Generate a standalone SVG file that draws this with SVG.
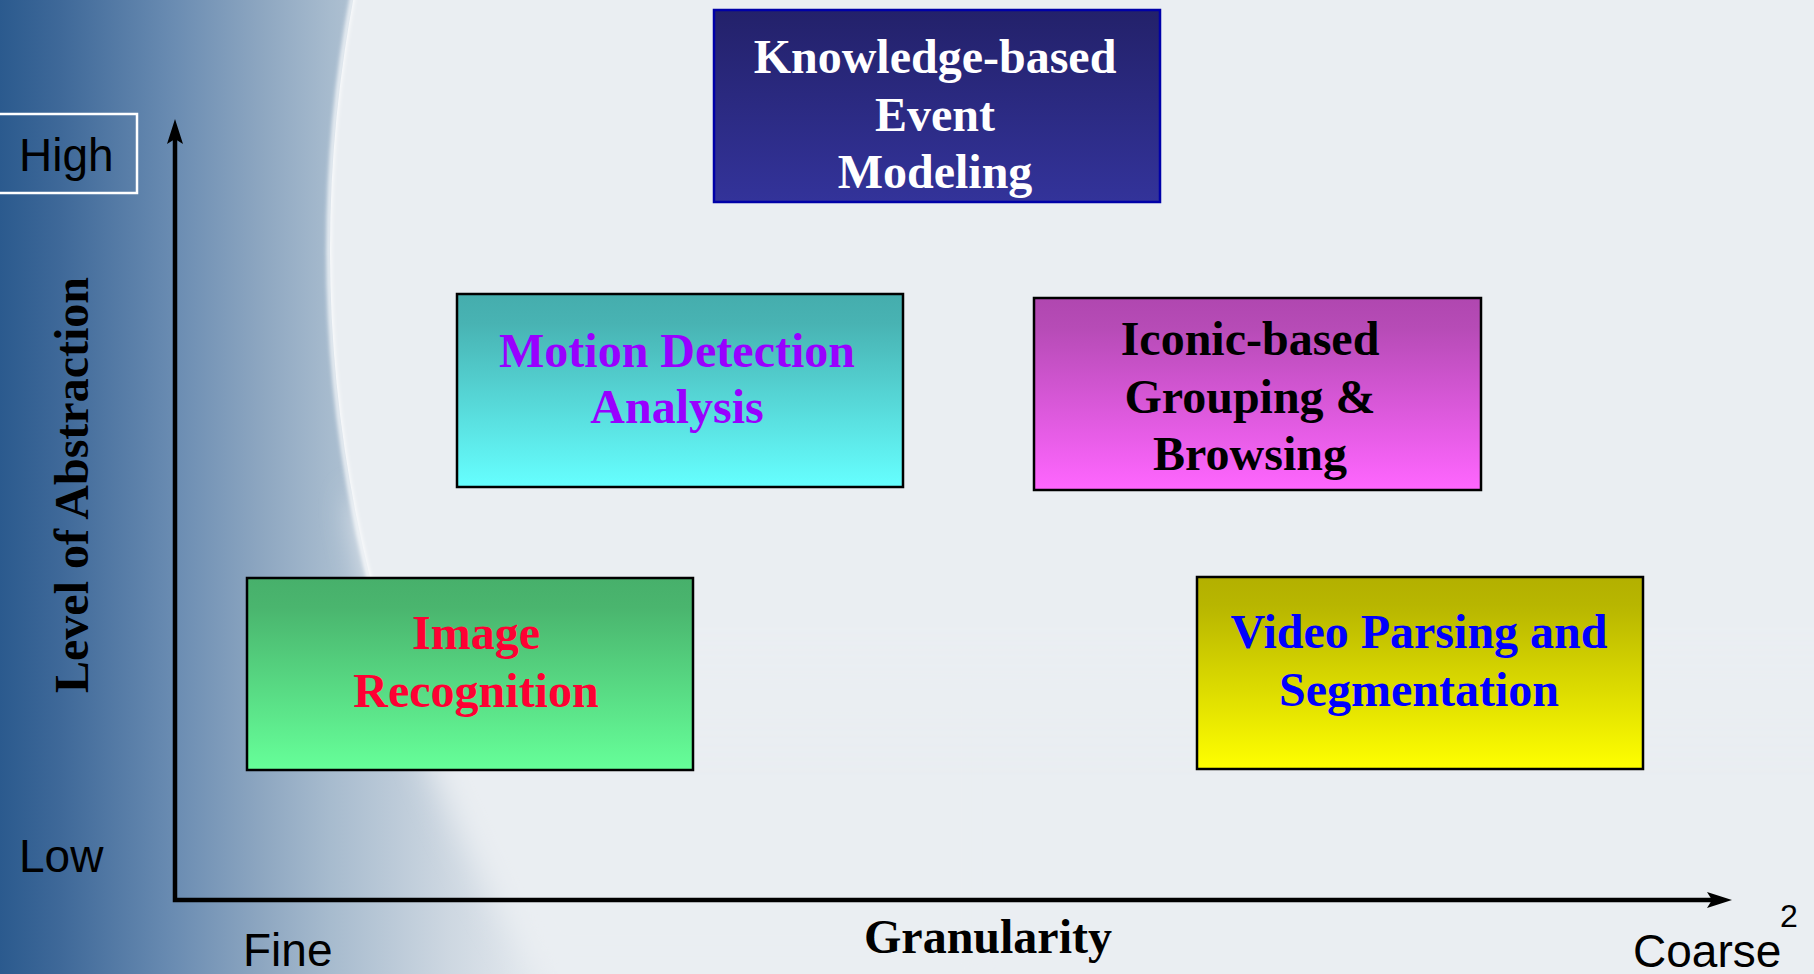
<svg xmlns="http://www.w3.org/2000/svg" width="1814" height="974" viewBox="0 0 1814 974">
  <defs>
    <linearGradient id="bgBand" x1="0" y1="0" x2="560" y2="0" gradientUnits="userSpaceOnUse">
      <stop offset="0" stop-color="#2b5a8e"/>
      <stop offset="0.11" stop-color="#3f6999"/>
      <stop offset="0.31" stop-color="#6a8cb2"/>
      <stop offset="0.47" stop-color="#8ea7c1"/>
      <stop offset="0.59" stop-color="#a7bbce"/>
      <stop offset="0.8" stop-color="#cdd7e1"/>
      <stop offset="1" stop-color="#eaeef2"/>
    </linearGradient>
    <linearGradient id="edgeFade" x1="0" y1="0" x2="0" y2="974" gradientUnits="userSpaceOnUse">
      <stop offset="0" stop-color="#ffffff" stop-opacity="1"/>
      <stop offset="0.62" stop-color="#ffffff" stop-opacity="1"/>
      <stop offset="0.8" stop-color="#ffffff" stop-opacity="0"/>
    </linearGradient>
    <linearGradient id="sharpMaskGrad" x1="0" y1="0" x2="0" y2="974" gradientUnits="userSpaceOnUse">
      <stop offset="0" stop-color="#fff"/>
      <stop offset="0.64" stop-color="#fff"/>
      <stop offset="0.8" stop-color="#000"/>
    </linearGradient>
    <mask id="sharpMask" maskUnits="userSpaceOnUse" x="0" y="0" width="1814" height="974">
      <rect x="0" y="0" width="1814" height="974" fill="url(#sharpMaskGrad)"/>
    </mask>
    <linearGradient id="gBlue" x1="0" y1="0" x2="0" y2="1">
      <stop offset="0" stop-color="#23216a"/>
      <stop offset="1" stop-color="#33339a"/>
    </linearGradient>
    <linearGradient id="gCyan" x1="0" y1="0" x2="0" y2="1">
      <stop offset="0" stop-color="#45adad"/>
      <stop offset="0.15" stop-color="#48b3b3"/>
      <stop offset="1" stop-color="#66ffff"/>
    </linearGradient>
    <linearGradient id="gMagenta" x1="0" y1="0" x2="0" y2="1">
      <stop offset="0" stop-color="#b047b0"/>
      <stop offset="0.15" stop-color="#b64bb6"/>
      <stop offset="1" stop-color="#ff66ff"/>
    </linearGradient>
    <linearGradient id="gGreen" x1="0" y1="0" x2="0" y2="1">
      <stop offset="0" stop-color="#47b06b"/>
      <stop offset="0.15" stop-color="#4ab56e"/>
      <stop offset="1" stop-color="#66ff99"/>
    </linearGradient>
    <linearGradient id="gYellow" x1="0" y1="0" x2="0" y2="1">
      <stop offset="0" stop-color="#b3b000"/>
      <stop offset="0.15" stop-color="#b8b600"/>
      <stop offset="1" stop-color="#ffff00"/>
    </linearGradient>
    <filter id="glow" x="-0.1" y="-0.1" width="1.2" height="1.2">
      <feGaussianBlur stdDeviation="2"/>
    </filter>
    <filter id="softEdge" filterUnits="userSpaceOnUse" x="200" y="400" width="800" height="700">
      <feGaussianBlur stdDeviation="16"/>
    </filter>
    <marker id="arrow" markerUnits="userSpaceOnUse" markerWidth="26" markerHeight="17" refX="5" refY="8" orient="auto-start-reverse" overflow="visible">
      <path d="M0,0 L25,8 L0,16 L5,8 Z" fill="#000"/>
    </marker>
    <style>
      .box { stroke: #000; stroke-width: 2.5; }
      .lbl { font-family: "Liberation Serif", "Times New Roman", serif; font-weight: bold; font-size: 48px; text-anchor: middle; }
      .axis { font-family: "Liberation Sans", Arial, sans-serif; font-size: 46px; fill: #000; }
    </style>
  </defs>

  <!-- background -->
  <rect x="0" y="0" width="1814" height="974" fill="url(#bgBand)"/>
  <path d="M353,500 A1360,1360 0 0 0 539,974 L1000,974 L1000,1100 L1000,500 Z" fill="#eaeef2" filter="url(#softEdge)"/>
  <circle cx="1690" cy="250" r="1360" fill="#eaeef2" mask="url(#sharpMask)"/>
  <circle cx="1690" cy="250" r="1361" fill="none" stroke="url(#edgeFade)" stroke-width="4" filter="url(#glow)"/>

  <!-- axes -->
  <g id="connectors">
    <polyline points="175,139 175,900 1712,900" fill="none" stroke="#000" stroke-width="4.5" stroke-linejoin="miter" marker-start="url(#arrow)" marker-end="url(#arrow)"/>
  </g>

  <!-- axis labels -->
  <g id="axis-high">
    <rect x="-2" y="114" width="139" height="79" fill="none" stroke="#ffffff" stroke-width="2.5"/>
    <text class="axis" x="19" y="171">High</text>
  </g>
  <text class="axis" x="19" y="872">Low</text>
  <text class="axis" x="243" y="966">Fine</text>
  <text class="axis" x="1633" y="967" font-size="46.5">Coarse</text>
  <text x="1780" y="927" font-family="Liberation Sans, Arial, sans-serif" font-size="32" fill="#000">2</text>
  <text class="lbl" x="988" y="953" fill="#000">Granularity</text>
  <text class="lbl" fill="#000" transform="translate(88,485) rotate(-90)" x="0" y="0">Level of Abstraction</text>

  <!-- nodes -->
  <g id="knowledge-based">
    <rect x="714" y="10" width="446" height="192" fill="url(#gBlue)" stroke="#0000a8" stroke-width="2.5"/>
    <text class="lbl" fill="#ffffff" x="935" y="73">Knowledge-based</text>
    <text class="lbl" fill="#ffffff" x="935" y="131">Event</text>
    <text class="lbl" fill="#ffffff" x="935" y="188">Modeling</text>
  </g>
  <g id="motion-detection">
    <rect class="box" x="457" y="294" width="446" height="193" fill="url(#gCyan)"/>
    <text class="lbl" fill="#9900ff" x="677" y="367">Motion Detection</text>
    <text class="lbl" fill="#9900ff" x="677" y="423">Analysis</text>
  </g>
  <g id="iconic-based">
    <rect class="box" x="1034" y="298" width="447" height="192" fill="url(#gMagenta)"/>
    <text class="lbl" fill="#000" x="1250" y="355">Iconic-based</text>
    <text class="lbl" fill="#000" x="1250" y="413">Grouping &amp;</text>
    <text class="lbl" fill="#000" x="1250" y="470">Browsing</text>
  </g>
  <g id="image-recognition">
    <rect class="box" x="247" y="578" width="446" height="192" fill="url(#gGreen)"/>
    <text class="lbl" fill="#ff0033" x="476" y="649">Image</text>
    <text class="lbl" fill="#ff0033" x="476" y="707">Recognition</text>
  </g>
  <g id="video-parsing">
    <rect class="box" x="1197" y="577" width="446" height="192" fill="url(#gYellow)"/>
    <text class="lbl" fill="#0000ff" x="1419" y="648">Video Parsing and</text>
    <text class="lbl" fill="#0000ff" x="1419" y="706">Segmentation</text>
  </g>
</svg>
